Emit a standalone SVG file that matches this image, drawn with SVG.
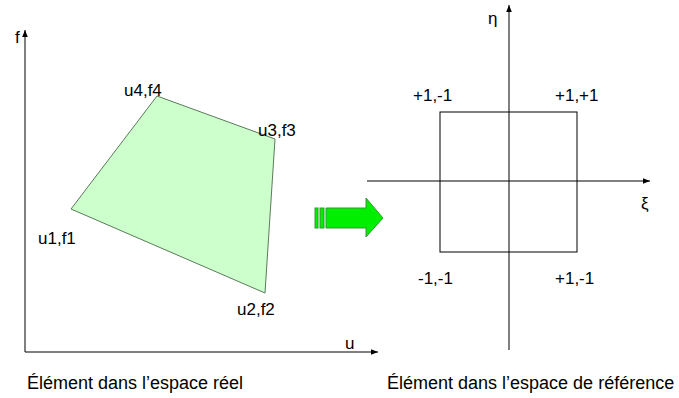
<svg xmlns="http://www.w3.org/2000/svg" width="679" height="398" viewBox="0 0 679 398">
<defs>
<marker id="ah" viewBox="0 0 10 10" refX="10" refY="5" markerWidth="7" markerHeight="7" orient="auto" markerUnits="userSpaceOnUse"><path d="M0,1 L10,5 L0,9 z" fill="#000"/></marker>
<style>
text{font-family:"Liberation Sans",Arial,sans-serif;font-size:17px;fill:#000}
text.cap{font-size:18px}
.ax{stroke:#000;stroke-width:1;fill:none}
</style>
</defs>
<rect width="679" height="398" fill="#fff"/>
<g id="connectors">
<line class="ax" x1="25" y1="352" x2="25" y2="30" marker-end="url(#ah)"/>
<line class="ax" x1="25" y1="352" x2="378" y2="352" marker-end="url(#ah)"/>
<line class="ax" x1="509" y1="350" x2="509" y2="5" marker-end="url(#ah)"/>
<line class="ax" x1="367" y1="181" x2="650" y2="181" marker-end="url(#ah)"/>
</g>
<g id="real-element">
<polygon points="71,209 157,96 275,139 265,293" fill="#ccffcc" stroke="#5a7a5a" stroke-width="1"/>
</g>
<g id="ref-element">
<rect x="440" y="112" width="137" height="140" fill="none" stroke="#000" stroke-width="1"/>
</g>
<g id="transform-arrow">
<rect x="315" y="208" width="3" height="20" fill="#00ee00" stroke="#339933" stroke-width="1"/>
<rect x="320" y="208" width="4" height="20" fill="#00ee00" stroke="#339933" stroke-width="1"/>
<polygon points="326,208 366,208 366,198 383,218 366,237 366,228 326,228" fill="#00ee00" stroke="#339933" stroke-width="1"/>
</g>
<g id="labels">
<text x="15" y="43">f</text>
<text x="345" y="349">u</text>
<text x="124" y="96">u4,f4</text>
<text x="258" y="136">u3,f3</text>
<text x="38" y="244">u1,f1</text>
<text x="237" y="315">u2,f2</text>
<text x="488" y="24">η</text>
<text x="641" y="209">ξ</text>
<text x="413" y="101">+1,-1</text>
<text x="555" y="101">+1,+1</text>
<text x="418" y="284">-1,-1</text>
<text x="555" y="284">+1,-1</text>
<text class="cap" x="27" y="389">Élément dans l’espace réel</text>
<text class="cap" x="387" y="389">Élément dans l’espace de référence</text>
</g>
</svg>
